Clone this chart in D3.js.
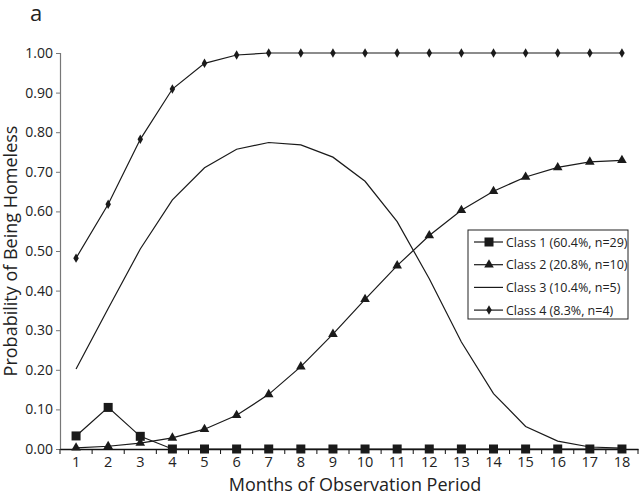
<!DOCTYPE html>
<html>
<head>
<meta charset="utf-8">
<script src="https://cdn.jsdelivr.net/npm/d3@7"></script>
<style>
  body { margin: 0; background: #fff; }
  svg { font-family: "Open Sans", "Noto Sans", sans-serif; }
</style>
</head>
<body>
<svg width="640" height="497"></svg>
<script>
// values
var months = [1, 2, 3, 4, 5, 6, 7, 8, 9, 10, 11, 12, 13, 14, 15, 16, 17, 18];
var class1 = [0.033, 0.105, 0.032, 0, 0, 0, 0, 0, 0, 0, 0, 0, 0, 0, 0, 0, 0, 0];
var class2 = [0.003, 0.007, 0.015, 0.028, 0.05, 0.085, 0.138, 0.208, 0.29, 0.378, 0.463, 0.539, 0.603, 0.651, 0.687, 0.711, 0.725, 0.729];
var class3 = [0.202, 0.355, 0.505, 0.629, 0.71, 0.757, 0.774, 0.768, 0.737, 0.676, 0.574, 0.43, 0.27, 0.14, 0.057, 0.02, 0.005, 0.002];
var class4 = [0.482, 0.618, 0.782, 0.909, 0.974, 0.995, 1, 1, 1, 1, 1, 1, 1, 1, 1, 1, 1, 1];
var yTicks = [0, 0.1, 0.2, 0.3, 0.4, 0.5, 0.6, 0.7, 0.8, 0.9, 1.0];
var legendLabels = ["Class 1 (60.4%, n=29)", "Class 2 (20.8%, n=10)", "Class 3 (10.4%, n=5)", "Class 4 (8.3%, n=4)"];

var svg = d3.select("svg");
var mLeft = 60, mRight = 638, mTop = 53, mBottom = 449;

var x = d3.scaleBand().domain(months).range([mLeft, mRight]);
var y = d3.scaleLinear().domain([0, 1]).range([mBottom, mTop]);
var cx = function (m) { return x(m) + x.bandwidth() / 2; };

// panel letter
svg.append("text").attr("x", 30).attr("y", 21).attr("font-size", 22).attr("fill", "#222").text("a");

// y axis
var yAxis = svg.append("g").attr("transform", "translate(" + mLeft + ",0)")
  .call(d3.axisLeft(y).tickValues(yTicks).tickFormat(d3.format(".2f")).tickSize(4).tickPadding(3));
yAxis.select(".domain").attr("stroke", "#777").attr("stroke-width", 1.2);
yAxis.selectAll(".tick line").attr("stroke", "#777");
yAxis.selectAll("text").attr("font-size", 14).attr("fill", "#222").attr("font-family", "Open Sans");

// x axis with ticks on band edges
var xAxis = svg.append("g").attr("transform", "translate(0," + mBottom + ")")
  .call(d3.axisBottom(x).tickSize(0).tickPadding(8));
xAxis.select(".domain").attr("stroke", "#111").attr("stroke-width", 1.3);
xAxis.selectAll("text").attr("font-size", 14.5).attr("fill", "#222").attr("font-family", "Open Sans");
xAxis.selectAll(".edge").data(months.concat([19])).enter().append("line")
  .attr("x1", function (m) { return m === 19 ? mRight : x(m); })
  .attr("x2", function (m) { return m === 19 ? mRight : x(m); })
  .attr("y1", 0).attr("y2", 5).attr("stroke", "#111");

// axis titles
svg.append("text").attr("x", 355).attr("y", 491).attr("text-anchor", "middle")
  .attr("font-size", 18).attr("fill", "#222").text("Months of Observation Period");
svg.append("text").attr("transform", "translate(17," + ((mTop + mBottom) / 2) + ") rotate(-90)")
  .attr("text-anchor", "middle").attr("font-size", 18).attr("fill", "#222").text("Probability of Being Homeless");

var line = d3.line().x(function (d, i) { return cx(months[i]); }).y(function (d) { return y(d); });
var series = [class1, class2, class3, class4];
var marks = ["square", "triangle", "none", "diamond"];

function marker(g, kind) {
  if (kind === "square") {
    g.append("rect").attr("x", -4.5).attr("y", -4.5).attr("width", 9).attr("height", 9).attr("fill", "#1a1a1a");
  } else if (kind === "triangle") {
    g.append("path").attr("d", d3.symbol().type(d3.symbolTriangle).size(40)()).attr("fill", "#1a1a1a");
  } else if (kind === "diamond") {
    g.append("path").attr("d", d3.symbol().type(d3.symbolDiamond).size(26)()).attr("fill", "#1a1a1a");
  }
}

series.forEach(function (s, k) {
  svg.append("path").datum(s).attr("d", line).attr("fill", "none")
    .attr("stroke", "#1a1a1a").attr("stroke-width", 1.2);
  if (marks[k] !== "none") {
    s.forEach(function (v, i) {
      var g = svg.append("g").attr("transform", "translate(" + cx(months[i]) + "," + y(v) + ")");
      marker(g, marks[k]);
    });
  }
});

// legend
var lg = svg.append("g").attr("transform", "translate(468,230)");
lg.append("rect").attr("width", 160).attr("height", 89).attr("fill", "#fff")
  .attr("stroke", "#222").attr("stroke-width", 1);
legendLabels.forEach(function (lab, k) {
  var yy = 12 + k * 22.7;
  lg.append("line").attr("x1", 6).attr("x2", 35).attr("y1", yy).attr("y2", yy)
    .attr("stroke", "#1a1a1a").attr("stroke-width", 1.2);
  var g = lg.append("g").attr("transform", "translate(21," + yy + ")");
  marker(g, marks[k]);
  lg.append("text").attr("x", 38).attr("y", yy + 4.5).attr("font-size", 12.5)
    .attr("fill", "#222").text(lab);
});
</script>
</body>
</html>
